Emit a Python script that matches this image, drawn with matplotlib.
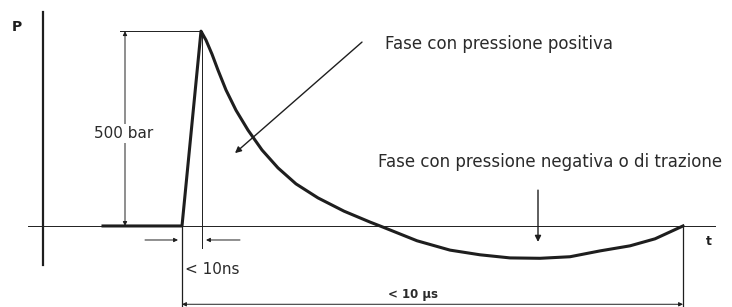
import matplotlib

matplotlib.use("Agg")
import matplotlib.pyplot as plt  # noqa: E402

# schematic time axis (arbitrary units) and pressure in bar
t_curve = [103, 182, 201, 206, 212, 218, 226, 236, 248, 262, 278, 296, 318, 344,
           370, 383, 417, 450, 480, 510, 540, 570, 600, 630, 655, 683]
p_curve = [0, 0, 500, 477, 441, 400, 349, 297, 246, 195, 149, 108, 72, 38,
           10, -3, -38, -62, -74, -82, -83, -79, -64, -51, -33, 0]

peak_t = 202
peak_p = 500
t_start = 182
t_end = 683
label_positive = "Fase con pressione positiva"
label_negative = "Fase con pressione negativa o di trazione"
label_peak = "500 bar"
label_rise = "< 10ns"
label_total = "< 10 µs"

INK = "#1e1e1e"
TXT = "#2a2a2a"
plt.rcParams["font.family"] = ["DejaVu Sans"]

fig = plt.figure(figsize=(7.32, 3.07), dpi=100)
ax = fig.add_axes([0, 0, 1, 1])
ax.set_xlim(0, 732)
ax.set_ylim(-208, 580)
ax.axis("off")

# axes of the sketch
ax.plot([43, 43], [-100, 549], color=INK, linewidth=1.6)
ax.plot([28, 715], [0, 0], color=INK, linewidth=0.7)
ax.text(17, 510, "P", fontsize=10, fontweight="bold", color=INK, ha="center", va="center")
ax.text(709, -41, "t", fontsize=9, fontweight="bold", color=INK, ha="center", va="center")

# pressure pulse
ax.plot(t_curve, p_curve, color=INK, linewidth=2.2, solid_joinstyle="round")

# amplitude dimension
ax.plot([120, peak_t], [peak_p, peak_p], color=INK, linewidth=0.7)
ax.plot([peak_t, peak_t], [peak_p, -56], color=INK, linewidth=0.7)
ax.annotate("", xy=(125, peak_p), xytext=(125, 0),
            arrowprops=dict(arrowstyle="<|-|>", color=INK, lw=0.7, mutation_scale=6, shrinkA=0, shrinkB=0))
ax.text(124, 238, label_peak, fontsize=11, color=TXT, ha="center", va="center",
        bbox=dict(facecolor="white", edgecolor="none", pad=1.5))

# rise time markers
ax.annotate("", xy=(178, -36), xytext=(145, -36),
            arrowprops=dict(arrowstyle="-|>", color=INK, lw=0.7, mutation_scale=6, shrinkA=0, shrinkB=0))
ax.annotate("", xy=(206, -36), xytext=(240, -36),
            arrowprops=dict(arrowstyle="-|>", color=INK, lw=0.7, mutation_scale=6, shrinkA=0, shrinkB=0))
ax.text(185, -113, label_rise, fontsize=11, color=TXT, ha="left", va="center")

# total duration
ax.plot([t_start, t_start], [0, -208], color=INK, linewidth=0.9)
ax.plot([t_end, t_end], [0, -208], color=INK, linewidth=0.9)
ax.annotate("", xy=(t_start, -201), xytext=(t_end, -201),
            arrowprops=dict(arrowstyle="<|-|>", color=INK, lw=0.7, mutation_scale=6, shrinkA=0, shrinkB=0))
ax.text(388, -176, label_total, fontsize=8.5, fontweight="bold", color=TXT, ha="left", va="center")

# phase labels
ax.annotate("", xy=(235, 187), xytext=(362, 472),
            arrowprops=dict(arrowstyle="-|>", color=INK, lw=1.0, mutation_scale=9, shrinkA=0, shrinkB=0))
ax.text(385, 467, label_positive, fontsize=12, color=TXT, ha="left", va="center")
ax.annotate("", xy=(538, -41), xytext=(538, 92),
            arrowprops=dict(arrowstyle="-|>", color=INK, lw=1.0, mutation_scale=9, shrinkA=0, shrinkB=0))
ax.text(378, 164, label_negative, fontsize=12, color=TXT, ha="left", va="center")

fig.savefig("out.png", dpi=100)
